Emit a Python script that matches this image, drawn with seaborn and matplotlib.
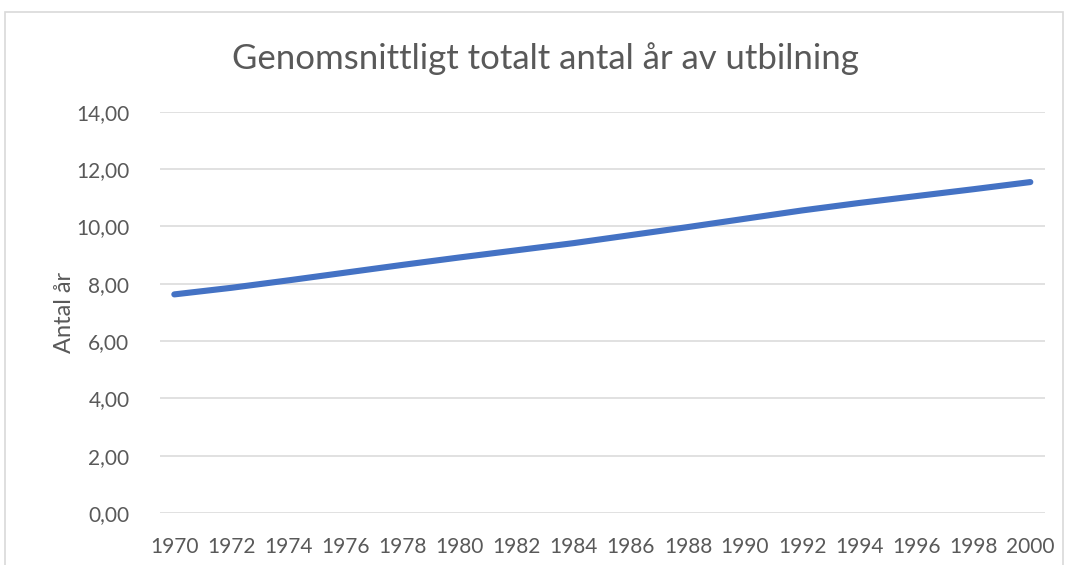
import pandas as pd
import matplotlib.pyplot as plt
import seaborn as sb
from matplotlib.ticker import FuncFormatter
from matplotlib.patches import Rectangle

# data (even years)
years = [1970, 1972, 1974, 1976, 1978, 1980, 1982, 1984,
         1986, 1988, 1990, 1992, 1994, 1996, 1998, 2000]
antal_ar = [7.63, 7.86, 8.12, 8.39, 8.66, 8.92, 9.17, 9.42,
            9.70, 9.98, 10.27, 10.56, 10.82, 11.06, 11.30, 11.55]
y_ticks = [0, 2, 4, 6, 8, 10, 12, 14]

titel = "Genomsnittligt totalt antal år av utbilning"
y_label = "Antal år"

dataFrame = pd.DataFrame({"ar": years, "antal": antal_ar})

sb.set_style("white")
plt.rcParams['font.family'] = ['Lato', 'DejaVu Sans']
textfarg = "#595959"

fig = plt.figure(figsize=(10.67, 5.65), dpi=100)
ax = fig.add_axes([0.150, 0.092, 0.829, 0.710])

sb.lineplot(data=dataFrame, x="ar", y="antal", ax=ax, color="#4472C4",
            linewidth=4.4, solid_capstyle="round", solid_joinstyle="round")

ax.set_ylim(0, 14)
ax.set_xlim(1969.5, 2000.5)
ax.set_yticks(y_ticks)
ax.set_xticks(years)
ax.yaxis.set_major_formatter(FuncFormatter(lambda v, p: f"{v:.2f}".replace(".", ",")))
ax.grid(axis="y", color="#D9D9D9", linewidth=1.1)
ax.set_axisbelow(True)
for s in ax.spines.values():
    s.set_visible(False)
ax.tick_params(axis="both", length=0, labelsize=15, labelcolor=textfarg)
ax.tick_params(axis="y", pad=22)
ax.tick_params(axis="x", pad=17)

ax.set_xlabel("")
ax.set_ylabel(y_label, fontsize=17, color=textfarg, labelpad=1)
fig.text(0.511, 0.897, titel, ha="center", va="center", fontsize=25, color=textfarg)

# ramen runt diagrammet
fig.patches.append(Rectangle((5 / 1067, -0.1), 1058 / 1067, 1.1 - 12 / 565,
                             transform=fig.transFigure, fill=False,
                             edgecolor="#D9D9D9", linewidth=1.2))

fig.savefig("out.png", dpi=100)
